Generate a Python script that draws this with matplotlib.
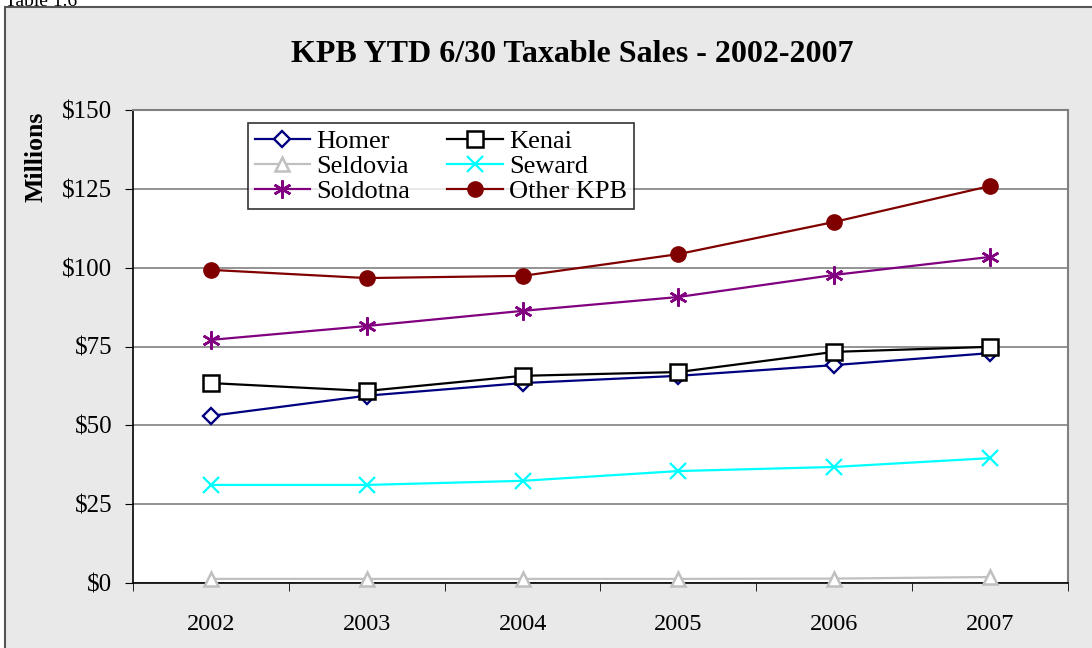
import numpy as np
import matplotlib.pyplot as plt
from matplotlib.patches import Rectangle

plt.rcParams['font.family'] = ['Liberation Serif', 'DejaVu Serif']

years = ["2002", "2003", "2004", "2005", "2006", "2007"]
homer = [53.0, 59.4, 63.4, 65.7, 69.1, 72.9]
kenai = [63.4, 60.9, 65.7, 66.9, 73.3, 74.9]
seldovia = [1.3, 1.3, 1.3, 1.3, 1.4, 1.9]
seward = [31.1, 31.1, 32.4, 35.5, 36.8, 39.6]
soldotna = [77.1, 81.5, 86.3, 90.7, 97.7, 103.4]
other_kpb = [99.3, 96.7, 97.4, 104.3, 114.5, 125.9]
y_ticks = [0, 25, 50, 75, 100, 125, 150]

fig = plt.figure(figsize=(10.92, 6.48), dpi=100)
fig.patch.set_facecolor("white")

# outer chart box ---------------------------------------------
fig.patches.append(Rectangle((5 / 1092, -0.01), 1.1, (648 - 7) / 648 + 0.01,
                             transform=fig.transFigure, facecolor="#e9e9e9",
                             edgecolor="#555555", linewidth=1.5, zorder=-5))
fig.text(0.005, 0.998, "Table 1.6", fontsize=14, ha="left", va="center")

ax = fig.add_axes([133 / 1092, 65 / 648, 935 / 1092, 473 / 648])
ax.set_facecolor("white")
x = np.arange(len(years))

series = [
    ("Homer", homer, dict(color="#000080", marker="D", markersize=8, markerfacecolor="white", markeredgewidth=1.7)),
    ("Kenai", kenai, dict(color="black", marker="s", markersize=11, markerfacecolor="white", markeredgewidth=1.8)),
    ("Seldovia", seldovia, dict(color="#c0c0c0", marker="^", markersize=10, markerfacecolor="white", markeredgewidth=1.8)),
    ("Seward", seward, dict(color="#00ffff", marker="x", markersize=11, markeredgewidth=1.6)),
    ("Soldotna", soldotna, dict(color="#800080", marker=(6, 2, 0), markersize=13, markeredgewidth=1.8)),
    ("Other KPB", other_kpb, dict(color="#800000", marker="o", markersize=11)),
]
handles = {}
for name, vals, style in series:
    h, = ax.plot(x, vals, linewidth=1.6, label=name, clip_on=False, zorder=3, **style)
    handles[name] = h

ax.set_xlim(-0.5, len(years) - 0.5)
ax.set_ylim(0, 150)
ax.set_yticks(y_ticks)
ax.set_yticklabels(["$%d" % v for v in y_ticks], fontsize=18)
ax.set_xticks(x)
ax.set_xticklabels(years, fontsize=17.5)
ax.set_xticks(np.arange(-0.5, len(years)), minor=True)
ax.tick_params(axis="x", which="major", length=0, pad=22)
ax.tick_params(axis="x", which="minor", length=6, direction="out", color="black")
ax.tick_params(axis="y", length=6, direction="out", color="black", pad=9)
ax.yaxis.grid(True, color="#808080", linewidth=1.2)
ax.set_axisbelow(True)
for side in ["top", "right"]:
    ax.spines[side].set_color("#808080")
    ax.spines[side].set_linewidth(1.5)
for side in ["left", "bottom"]:
    ax.spines[side].set_color("black")
    ax.spines[side].set_linewidth(1.2)

fig.text(36 / 1092, 1 - 157 / 648, "Millions", fontsize=18.5, fontweight="bold",
         rotation=90, ha="center", va="center")

fig.text(572 / 1092, 1 - 54 / 648, "KPB YTD 6/30 Taxable Sales - 2002-2007",
         fontsize=23, fontweight="bold", ha="center", va="center")

order = ["Homer", "Seldovia", "Soldotna", "Kenai", "Seward", "Other KPB"]
leg = ax.legend([handles[n] for n in order], order, ncol=2, loc="upper left",
                bbox_to_anchor=(0.123, 0.972), fontsize=19, frameon=True,
                fancybox=False, edgecolor="black", handlelength=2.1,
                handletextpad=0.25, columnspacing=1.4, labelspacing=0.05,
                borderpad=0.25, borderaxespad=0)
leg.get_frame().set_linewidth(1.2)

fig.savefig("out.png", dpi=100)
